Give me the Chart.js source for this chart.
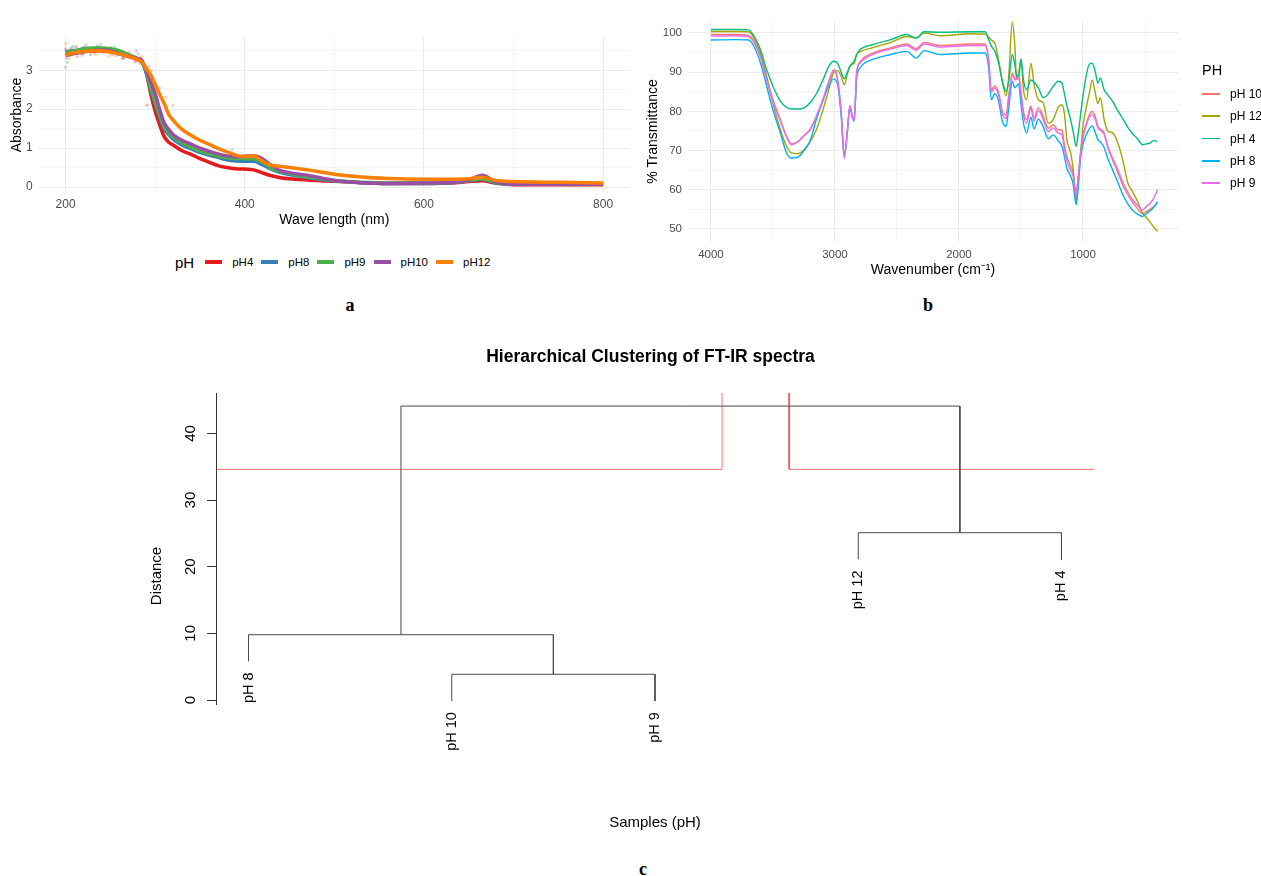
<!DOCTYPE html>
<html>
<head>
<meta charset="utf-8">
<title>UV-Vis, FT-IR and clustering</title>
<script src="https://cdn.jsdelivr.net/npm/chart.js@4.4.0/dist/chart.umd.min.js"></script>
<style>
  body { margin: 0; background: #fff; font-family: "Liberation Sans", Arial, sans-serif; }
  #page { position: relative; width: 1261px; height: 876px; overflow: hidden; }
  canvas { position: absolute; }
  .tag { position: absolute; font-family: "Liberation Serif", serif; font-weight: bold; font-size: 18px;
         transform: translate(-50%, -50%); color: #000; }
  #legend_a { position: absolute; left: 175px; top: 252px; height: 20px; display: flex; align-items: center;
              font-size: 11.5px; color: #000; white-space: nowrap; }
  #legend_a .t { font-size: 15px; margin-right: 11px; }
  #legend_a .it { display: flex; align-items: center; margin-right: 8px; }
  #legend_a .k { width: 17px; height: 3.5px; margin-right: 10px; }
  #legend_b { position: absolute; left: 1202px; top: 60px; font-size: 12px; color: #000; white-space: nowrap; }
  #legend_b .t { font-size: 14.5px; height: 20px; line-height: 20px; margin-bottom: 2.8px; }
  #legend_b .it { display: flex; align-items: center; height: 22.3px; }
  #legend_b .k { width: 18px; height: 1.5px; margin-right: 10px; }
</style>
</head>
<body>
<div id="page">
  <canvas id="chart_a" width="640" height="235" style="left:0;top:0"></canvas>
  <canvas id="chart_b" width="621" height="285" style="left:640px;top:0"></canvas>
  <canvas id="chart_c" width="1261" height="520" style="left:0;top:330px"></canvas>
  <div id="legend_a"></div>
  <div id="legend_b"></div>
  <div class="tag" style="left:350px;top:305px">a</div>
  <div class="tag" style="left:928px;top:305px">b</div>
  <div class="tag" style="left:643px;top:869px">c</div>
</div>
<script>
// ---------- (a) UV-Vis absorbance ----------
var uv_wavelength = [200, 210, 220, 230, 240, 250, 260, 270, 280, 285, 290, 295, 300, 305, 310, 315, 320, 330, 340, 350,
  360, 370, 380, 390, 400, 410, 420, 430, 440, 450, 470, 500, 530, 560, 600, 630, 650, 665, 680, 700, 750, 800];
var uv_ph4 = [3.42, 3.45, 3.48, 3.5, 3.5, 3.48, 3.43, 3.36, 3.28, 3.22, 2.95, 2.4, 1.95, 1.6, 1.3, 1.15, 1.08, 0.93, 0.84, 0.73,
  0.64, 0.55, 0.5, 0.47, 0.46, 0.44, 0.36, 0.29, 0.24, 0.21, 0.18, 0.15, 0.11, 0.09, 0.09, 0.1, 0.14, 0.16, 0.1, 0.06, 0.06, 0.06];
var uv_ph8 = [3.48, 3.5, 3.53, 3.55, 3.55, 3.52, 3.47, 3.38, 3.3, 3.22, 2.95, 2.5, 2.15, 1.8, 1.5, 1.35, 1.23, 1.08, 0.98, 0.89,
  0.82, 0.76, 0.7, 0.67, 0.66, 0.66, 0.57, 0.45, 0.37, 0.32, 0.24, 0.16, 0.11, 0.09, 0.09, 0.11, 0.16, 0.2, 0.11, 0.07, 0.07, 0.07];
var uv_ph9 = [3.45, 3.5, 3.55, 3.57, 3.57, 3.55, 3.5, 3.4, 3.3, 3.22, 2.95, 2.55, 2.2, 1.85, 1.55, 1.4, 1.28, 1.13, 1.02, 0.93,
  0.86, 0.8, 0.75, 0.73, 0.73, 0.72, 0.63, 0.48, 0.4, 0.35, 0.26, 0.17, 0.12, 0.1, 0.1, 0.12, 0.17, 0.21, 0.12, 0.08, 0.08, 0.08];
var uv_ph10 = [3.38, 3.43, 3.47, 3.5, 3.52, 3.5, 3.42, 3.36, 3.3, 3.25, 3.0, 2.7, 2.4, 2.0, 1.65, 1.48, 1.35, 1.2, 1.1, 1.0,
  0.92, 0.85, 0.8, 0.78, 0.79, 0.8, 0.72, 0.55, 0.42, 0.37, 0.3, 0.17, 0.11, 0.09, 0.1, 0.12, 0.18, 0.3, 0.14, 0.08, 0.07, 0.07];
var uv_ph12 = [3.4, 3.45, 3.48, 3.5, 3.5, 3.47, 3.42, 3.36, 3.28, 3.22, 3.05, 2.88, 2.64, 2.38, 2.15, 1.87, 1.72, 1.48, 1.33, 1.2,
  1.1, 0.99, 0.9, 0.82, 0.78, 0.8, 0.66, 0.56, 0.53, 0.5, 0.44, 0.33, 0.26, 0.22, 0.2, 0.2, 0.21, 0.25, 0.17, 0.14, 0.12, 0.1];
// raw readings scattered around the smoothed curves (mostly the UV plateau)
var uv_raw_ph4 = [[200, 3.55], [205, 3.38], [212, 3.6], [218, 3.42], [225, 3.56], [232, 3.44], [238, 3.58], [245, 3.47],
  [252, 3.4], [258, 3.5], [265, 3.32], [272, 3.38], [278, 3.22], [284, 3.3], [291, 2.1], [300, 2.3], [310, 1.45]];
var uv_raw_ph8 = [[201, 3.3], [207, 3.58], [214, 3.45], [221, 3.6], [229, 3.48], [236, 3.62], [244, 3.5], [251, 3.58],
  [259, 3.42], [266, 3.45], [274, 3.33], [281, 3.42], [288, 3.15]];
var uv_raw_ph9 = [[202, 3.2], [209, 3.62], [216, 3.5], [223, 3.65], [231, 3.52], [239, 3.66], [247, 3.55], [255, 3.6],
  [262, 3.45], [270, 3.4], [277, 3.28], [283, 3.18], [386, 0.96]];
var uv_raw_ph10 = [[200, 3.08], [206, 3.55], [213, 3.35], [220, 3.58], [228, 3.4], [235, 3.6], [242, 3.46], [250, 3.55],
  [257, 3.38], [264, 3.3], [271, 3.45], [279, 3.5], [286, 3.25], [293, 3.1]];
var uv_raw_ph12 = [[200, 3.68], [204, 3.3], [211, 3.55], [219, 3.38], [226, 3.58], [234, 3.4], [241, 3.55], [248, 3.36],
  [256, 3.5], [263, 3.3], [270, 3.42], [276, 3.35], [285, 3.35], [296, 3.0], [305, 2.55], [312, 2.3], [320, 2.1]];
var uv_labels = ['pH4', 'pH8', 'pH9', 'pH10', 'pH12'];
var uv_colors = ['#E41A1C', '#377EB8', '#4DAF4A', '#984EA3', '#FF7F00'];
var uv_points_colors = ['rgba(228,26,28,0.3)', 'rgba(55,126,184,0.3)', 'rgba(77,175,74,0.3)', 'rgba(152,78,163,0.3)', 'rgba(255,127,0,0.3)'];
var uv_x_ticks = [200, 300, 400, 500, 600, 700, 800];
var uv_x_labeled = [200, 400, 600, 800];
var uv_y_ticks = [0, 0.5, 1, 1.5, 2, 2.5, 3, 3.5];
var uv_y_labeled = [0, 1, 2, 3];

// ---------- (b) FT-IR transmittance ----------
var ir_wavenumber = [4000, 3800, 3700, 3660, 3600, 3550, 3500, 3440, 3390, 3350, 3300, 3250, 3200, 3150, 3100, 3050, 3010, 2980,
  2950, 2925, 2900, 2880, 2860, 2845, 2825, 2800, 2700, 2550, 2420, 2345, 2280, 2150, 1900, 1790, 1760, 1740, 1710, 1680, 1650,
  1620, 1600, 1570, 1550, 1535, 1520, 1500, 1480, 1455, 1420, 1395, 1360, 1320, 1280, 1240, 1200, 1170, 1150, 1130, 1100, 1080,
  1055, 1040, 1020, 1000, 980, 950, 925, 900, 880, 860, 830, 800, 760, 720, 680, 640, 600, 560, 520, 490, 460, 430, 400];
var ir_ph10 = [99.6, 99.6, 99.4, 98.3, 94, 88.5, 83, 77.9, 73.6, 71.7,
  72.3, 73.8, 75.3, 78.5, 82.5, 87.5, 90.6, 88.5, 80, 69,
  75.3, 81.5, 79, 77.9, 90, 92.5, 94.8, 96.2, 97.2, 96,
  97.6, 96.8, 97.2, 97.2, 93, 85.5, 86.5, 84.7, 80, 79,
  83.8, 89.8, 88.5, 88.8, 89.4, 85, 80, 77.9, 81.4, 78.3,
  80.9, 78.7, 75.7, 76.6, 75.3, 75.3, 71.5, 68.5, 66, 64.5,
  59.1, 63, 69.4, 74, 76.2, 79, 80, 78.5, 76.2, 75.5,
  74.5, 70.8, 67.5, 64.5, 61.2, 58.8, 56.8, 55.2, 54, 54.4,
  55, 55.7, 56.5];
var ir_ph12 = [100.4, 100.4, 100.3, 99.1, 94.9, 88.9, 82.1, 75.3, 71.1, 69.4,
  69.2, 70.2, 72.2, 75.3, 80, 85.5, 90, 90.4, 89, 86.8,
  89.5, 91.5, 92, 92.3, 94.5, 95.2, 96.2, 97.6, 99.1, 98.7,
  100, 99.3, 99.8, 99.7, 99, 98.2, 97.4, 93, 87.5, 84,
  88.5, 102.8, 97, 88.1, 89.5, 93.2, 85.5, 83, 92.3, 87,
  83, 82.1, 77, 77.9, 81, 81.7, 79.5, 72.8, 69.5, 65.5,
  57, 62, 69, 76.2, 80, 84.5, 88, 84.5, 82, 83.5,
  78, 75, 74.5, 72, 67.7, 61.9, 59.5, 57, 54, 53,
  51.8, 50.5, 49.4];
var ir_ph4 = [100.9, 100.9, 100.8, 99.6, 95.7, 90.6, 86.4, 82.6, 81, 80.6,
  80.6, 80.9, 82.2, 84.5, 87.8, 91.5, 92.8, 92.3, 90, 88.3,
  90, 91.5, 92.2, 92.8, 94.5, 95.7, 97, 98.3, 99.6, 98.7,
  100.3, 100.2, 100.3, 100.3, 98.3, 96.7, 95.3, 92.3, 87.7, 85.1,
  87.5, 94.5, 92, 89, 88.8, 93.4, 88, 85.5, 88, 87.5,
  86, 83.5, 84.5, 86.4, 87.7, 87.2, 84.5, 81.5, 77.9, 75,
  71.1, 74, 79, 84, 88.1, 92, 92.3, 90, 87.2, 88.5,
  85.5, 84.2, 82.5, 80.2, 78.2, 76, 74.3, 73, 71.5, 71.7,
  71.9, 72.6, 72.3];
var ir_ph8 = [98.2, 98.3, 98.2, 97, 92.3, 86.4, 80.4, 74.5, 69.4, 68.1,
  68.3, 70, 72.5, 77.9, 82.5, 86.5, 88.3, 87, 79, 68.5,
  74.5, 81, 78.5, 77.5, 88.5, 91, 93.2, 94.5, 95.3, 93.6,
  95.5, 94.5, 94.9, 94.9, 91, 83, 84.5, 82.5, 77.5, 76.2,
  80.5, 87.7, 86, 86.5, 87, 82, 77, 74.5, 78.5, 75.5,
  78, 76, 73, 74, 72.5, 71.1, 68.5, 65.5, 63.5, 61.5,
  56.2, 60, 68, 71.5, 73.6, 75.5, 76.3, 74.5, 72.8, 72.2,
  70.8, 68, 65, 62, 58.8, 56.5, 54.8, 53.8, 53.2, 53.9,
  54.6, 55.5, 57];
var ir_ph9 = [99.2, 99.3, 99.1, 98, 93.7, 88, 82.5, 77.5, 73.5, 71.5,
  72.3, 73.8, 75.5, 78.8, 82.8, 87.6, 90.4, 88.2, 79.8, 68,
  75, 81.2, 78.8, 77.6, 89.8, 92.2, 94.5, 95.9, 96.8, 95.6,
  97.2, 96.4, 96.8, 96.8, 92.5, 85, 86, 84, 79.3, 78.2,
  83, 89.2, 88, 88.3, 88.8, 84.2, 79.2, 77, 80.8, 77.5,
  80.2, 77.9, 74.8, 75.8, 74.4, 74, 70.5, 67.5, 65, 63.5,
  58.3, 62.5, 68.8, 73.2, 75.8, 78.5, 79.1, 77.8, 75.8, 75.2,
  74.2, 71, 68, 65.2, 62, 59.5, 57.5, 56, 54.9, 55.7,
  56.5, 57.8, 60];
var ir_labels = ['pH 10', 'pH 12', 'pH 4', 'pH 8', 'pH 9'];
var ir_colors = ['#F8766D', '#A3A500', '#00BF7D', '#00B0F6', '#E76BF3'];
var ir_x_ticks = [4000, 3500, 3000, 2500, 2000, 1500, 1000, 500];
var ir_x_labeled = [4000, 3000, 2000, 1000];
var ir_y_ticks = [50, 55, 60, 65, 70, 75, 80, 85, 90, 95, 100];
var ir_y_labeled = [50, 60, 70, 80, 90, 100];

// ---------- (c) dendrogram ----------
var leaf_labels = ['pH 8', 'pH 10', 'pH 9', 'pH 12', 'pH 4'];
var leaf_pos = [1, 2, 3, 4, 5];
var leaf_end = [5.78, -0.16, -0.16, 21.08, 21.08];
// merges in order: left x, right x, height, height where each side starts
var merge_left = [2, 1, 4, 1.75];
var merge_right = [3, 2.5, 5, 4.5];
var merge_height = [3.86, 9.8, 25.1, 44.1];
var merge_left_from = [-0.16, 5.78, 21.08, 9.8];
var merge_right_from = [-0.16, 3.86, 21.08, 25.1];
var cut_height = 34.6;
var box_left = [0.66, 3.66];
var box_right = [3.33, 5.33];
var dist_ticks = [0, 10, 20, 30, 40];

var FONT = '"Liberation Sans", Arial, sans-serif';
Chart.defaults.font.family = FONT;
Chart.defaults.animation = false;

function pairs(xs, ys) {
  return xs.map(function (x, i) { return {x: x, y: ys[i]}; });
}
function points(list) {
  return list.map(function (p) { return {x: p[0], y: p[1]}; });
}
function fixedTicks(values) {
  return function (scale) { scale.ticks = values.map(function (v) { return {value: v}; }); };
}
function gridWidth(labeled) {
  return function (ctx) { return ctx.tick && labeled.indexOf(ctx.tick.value) >= 0 ? 1 : 0.5; };
}
function tickText(labeled) {
  return function (value) { return labeled.indexOf(value) >= 0 ? String(value) : ''; };
}

// legends (ggplot style, built from the series arrays)
document.getElementById('legend_a').innerHTML = '<span class="t">pH</span>' + uv_labels.map(function (l, i) {
  return '<span class="it"><span class="k" style="background:' + uv_colors[i] + '"></span>' + l + '</span>';
}).join('');
document.getElementById('legend_b').innerHTML = '<div class="t">PH</div>' + ir_labels.map(function (l, i) {
  return '<div class="it"><span class="k" style="background:' + ir_colors[i] + '"></span>' + l + '</div>';
}).join('');

var uv_series = [uv_ph4, uv_ph8, uv_ph9, uv_ph10, uv_ph12];
var uv_raw = [uv_raw_ph4, uv_raw_ph8, uv_raw_ph9, uv_raw_ph10, uv_raw_ph12];
var uv_sets = uv_series.map(function (s, i) {
  return {
    label: uv_labels[i], data: pairs(uv_wavelength, s),
    borderColor: uv_colors[i], backgroundColor: uv_colors[i],
    borderWidth: 3.5, pointRadius: 0, cubicInterpolationMode: 'monotone',
    order: uv_series.length - i
  };
});
uv_raw.forEach(function (r, i) {
  uv_sets.push({
    label: uv_labels[i] + ' raw', data: points(r), showLine: false,
    pointRadius: 1.7, pointBorderWidth: 0, pointBackgroundColor: uv_points_colors[i],
    order: 20 - i
  });
});

new Chart(document.getElementById('chart_a'), {
  type: 'line',
  data: {datasets: uv_sets},
  options: {
    responsive: false,
    layout: {padding: {top: 37, right: 10, bottom: 6.6, left: 0}},
    plugins: {legend: {display: false}, tooltip: {enabled: false}},
    scales: {
      x: {
        type: 'linear', min: 170, max: 830, bounds: 'data',
        afterBuildTicks: fixedTicks(uv_x_ticks),
        ticks: {callback: tickText(uv_x_labeled), color: '#4D4D4D', font: {size: 12}, padding: 4.8, autoSkip: false, maxRotation: 0},
        grid: {color: '#EBEBEB', lineWidth: gridWidth(uv_x_labeled), drawTicks: false},
        border: {display: false},
        title: {display: true, text: 'Wave length (nm)', color: '#000', font: {size: 14}, padding: {top: -5.4, bottom: 0}}
      },
      y: {
        min: -0.154, max: 3.854, bounds: 'data',
        afterBuildTicks: fixedTicks(uv_y_ticks),
        ticks: {callback: tickText(uv_y_labeled), color: '#4D4D4D', font: {size: 12}, padding: 6, autoSkip: false},
        grid: {color: '#EBEBEB', lineWidth: gridWidth(uv_y_labeled), drawTicks: false},
        border: {display: false},
        title: {display: true, text: 'Absorbance', color: '#000', font: {size: 14}, padding: {top: 8.6, bottom: -5.4}}
      }
    }
  }
});

var ir_series = [ir_ph10, ir_ph12, ir_ph4, ir_ph8, ir_ph9];
new Chart(document.getElementById('chart_b'), {
  type: 'line',
  data: {
    datasets: ir_series.map(function (s, i) {
      return {
        label: ir_labels[i], data: pairs(ir_wavenumber, s),
        borderColor: ir_colors[i], backgroundColor: ir_colors[i],
        borderWidth: 1.4, pointRadius: 0, cubicInterpolationMode: 'monotone',
        order: ir_series.length - i
      };
    })
  },
  options: {
    responsive: false,
    layout: {padding: {top: 21, right: 83, bottom: 6.6, left: 0}},
    plugins: {legend: {display: false}, tooltip: {enabled: false}},
    scales: {
      x: {
        type: 'linear', reverse: true, min: 234, max: 4185, bounds: 'data',
        afterBuildTicks: fixedTicks(ir_x_ticks),
        ticks: {callback: tickText(ir_x_labeled), color: '#4D4D4D', font: {size: 11.5}, padding: 6, autoSkip: false, maxRotation: 0},
        grid: {color: '#EBEBEB', lineWidth: gridWidth(ir_x_labeled), drawTicks: false},
        border: {display: false},
        title: {display: true, text: 'Wavenumber (cm\u207B\u00B9)', color: '#000', font: {size: 14}, padding: {top: -6.2, bottom: 0}}
      },
      y: {
        min: 46.68, max: 103.06, bounds: 'data',
        afterBuildTicks: fixedTicks(ir_y_ticks),
        ticks: {callback: tickText(ir_y_labeled), color: '#4D4D4D', font: {size: 11.5}, padding: 6, autoSkip: false},
        grid: {color: '#EBEBEB', lineWidth: gridWidth(ir_y_labeled), drawTicks: false},
        border: {display: false},
        title: {display: true, text: '% Transmittance', color: '#000', font: {size: 14}, padding: {top: 4.6, bottom: -4.6}}
      }
    }
  }
});

// dendrogram: one polyline per merge, plus the red cluster boxes
var dendro_sets = [];
for (var i = 0; i < merge_height.length; i++) {
  dendro_sets.push({
    data: [{x: merge_left[i], y: merge_left_from[i]}, {x: merge_left[i], y: merge_height[i]},
           {x: merge_right[i], y: merge_height[i]}, {x: merge_right[i], y: merge_right_from[i]}],
    borderColor: '#4A4A4A', borderWidth: 1, showLine: true, pointRadius: 0, tension: 0
  });
}
for (var k = 0; k < box_left.length; k++) {
  dendro_sets.push({
    data: [{x: box_left[k], y: 60}, {x: box_left[k], y: cut_height},
           {x: box_right[k], y: cut_height}, {x: box_right[k], y: 60}],
    borderColor: 'rgba(255,0,0,0.55)', borderWidth: 1, showLine: true, pointRadius: 0, tension: 0
  });
}

var dendroText = {
  id: 'dendroText',
  afterDraw: function (chart) {
    var ctx = chart.ctx, xs = chart.scales.x, ys = chart.scales.y, area = chart.chartArea;
    ctx.save();
    ctx.fillStyle = '#000';
    ctx.textBaseline = 'middle';
    ctx.textAlign = 'center';
    ctx.font = '15px ' + FONT;
    dist_ticks.forEach(function (v) {
      ctx.save();
      ctx.translate(area.left - 25, ys.getPixelForValue(v));
      ctx.rotate(-Math.PI / 2);
      ctx.fillText(String(v), 0, 0);
      ctx.restore();
    });
    ctx.save();
    ctx.translate(area.left - 59, 246);
    ctx.rotate(-Math.PI / 2);
    ctx.fillText('Distance', 0, 0);
    ctx.restore();
    ctx.fillText('Samples (pH)', (area.left + area.right) / 2, 493);
    ctx.font = '14.5px ' + FONT;
    ctx.textAlign = 'right';
    leaf_labels.forEach(function (lab, i) {
      ctx.save();
      ctx.translate(xs.getPixelForValue(leaf_pos[i]), ys.getPixelForValue(leaf_end[i]) + 11);
      ctx.rotate(-Math.PI / 2);
      ctx.fillText(lab, 0, 0);
      ctx.restore();
    });
    ctx.restore();
  }
};

new Chart(document.getElementById('chart_c'), {
  type: 'scatter',
  data: {datasets: dendro_sets},
  options: {
    responsive: false,
    layout: {padding: {top: 0, right: 167, bottom: 146, left: 207}},
    plugins: {
      legend: {display: false}, tooltip: {enabled: false},
      title: {display: true, text: 'Hierarchical Clustering of FT-IR spectra', color: '#000',
              font: {size: 17.5, weight: 'bold'}, padding: {top: 17, bottom: 25}}
    },
    scales: {
      x: {type: 'linear', min: 0.84, max: 5.16, display: false},
      y: {
        min: -0.6, max: 46.06, bounds: 'data',
        afterBuildTicks: fixedTicks(dist_ticks),
        ticks: {display: false},
        grid: {drawOnChartArea: false, drawTicks: true, tickLength: 9, color: '#333'},
        border: {display: true, color: '#333'}
      }
    }
  },
  plugins: [dendroText]
});
</script>
</body>
</html>
